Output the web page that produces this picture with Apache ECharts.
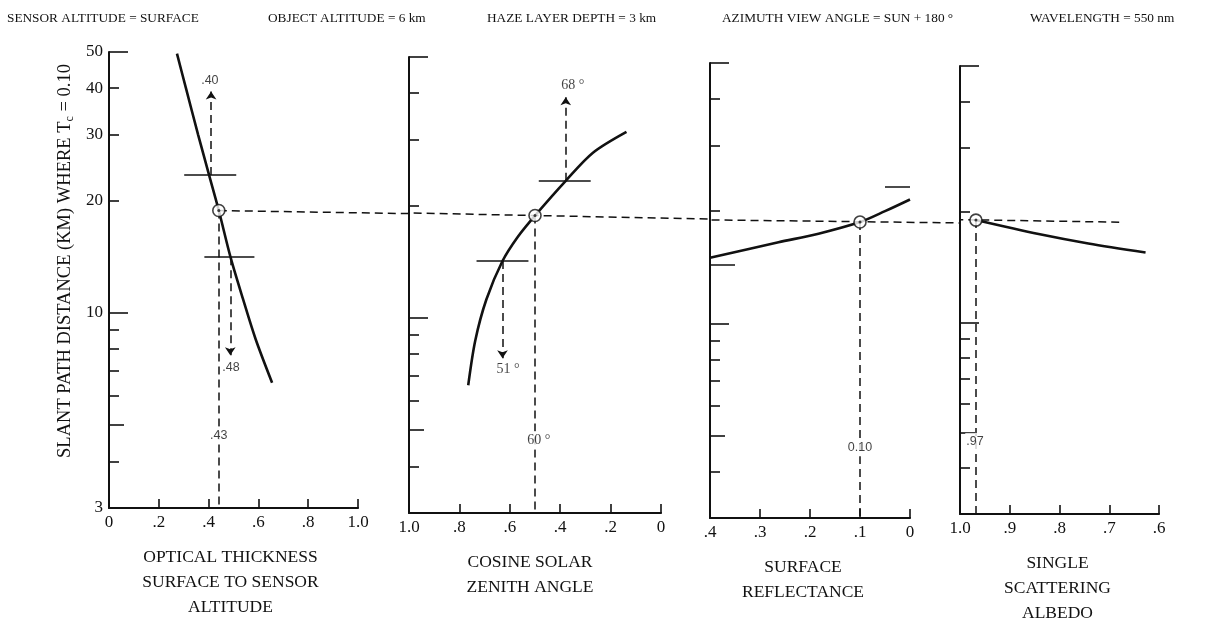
<!DOCTYPE html>
<html><head><meta charset="utf-8">
<script src="https://cdn.jsdelivr.net/npm/echarts@6/dist/echarts.min.js"></script>
<style>html,body{margin:0;padding:0;background:#fff}#c{width:1209px;height:631px}</style>
</head><body><div id="c"></div>
<script>
// ---------- data ----------
const headerTexts = ['SENSOR ALTITUDE = SURFACE', 'OBJECT ALTITUDE = 6 km', 'HAZE LAYER DEPTH = 3 km', 'AZIMUTH VIEW ANGLE = SUN + 180 °', 'WAVELENGTH = 550 nm'];
const yShortTicks = [40, 30, 20, 9, 8, 7, 6, 4];
const yLongTicks = [50, 10];
const yMidTicks = [5];
const yTickLabels = [50, 40, 30, 20, 10, 3];
const panelTitles = ['OPTICAL THICKNESS\nSURFACE TO SENSOR\nALTITUDE', 'COSINE SOLAR\nZENITH ANGLE', 'SURFACE\nREFLECTANCE', 'SINGLE\nSCATTERING\nALBEDO'];

// Panel 1: optical thickness
const opticalCurve = [[0.273, 49.5], [0.309, 40], [0.358, 30], [0.402, 23.4], [0.441, 18.8], [0.488, 14.1], [0.538, 10.9], [0.589, 8.5], [0.655, 6.5]];
const opticalPoint = [0.441, 18.8];
const opticalBars = [[[0.302, 23.4], [0.511, 23.4]], [[0.383, 14.1], [0.584, 14.1]]];
const opticalArrows = [[[0.41, 23.4], [0.41, 39.2]], [[0.487, 14.1], [0.487, 7.7]]];
const opticalDrops = [[[0.441, 18.8], [0.441, 3]]];
const opticalGuide = [[0.441, 18.8], [1.2, 18.45]];
const opticalLabels = [['.40', 0.405, 41.8], ['.48', 0.49, 7.15], ['.43', 0.441, 4.7]];

// Panel 2: cosine solar zenith angle
const cosineCurve = [[0.765, 6.6], [0.737, 8.7], [0.693, 11.2], [0.629, 14.2], [0.568, 16.5], [0.5, 18.8], [0.378, 23.3], [0.270, 27.7], [0.137, 31.5]];
const cosinePoint = [0.5, 18.8];
const cosineBars = [[[0.485, 23.3], [0.279, 23.3]], [[0.732, 14.2], [0.526, 14.2]]];
const cosineArrows = [[[0.378, 23.3], [0.378, 39]], [[0.629, 14.2], [0.629, 7.8]]];
const cosineDrops = [[[0.5, 18.8], [0.5, 3]]];
const cosineGuide = [[1.0, 19.1], [-0.195, 18.4]];
const cosineLabels = [['68 °', 0.35, 42], ['51 °', 0.607, 7.3], ['60 °', 0.485, 4.7]];

// Panel 3: surface reflectance
const reflectCurve = [[0.4, 15.0], [0.263, 16.5], [0.183, 17.4], [0.1, 18.7], [0.05, 20], [0, 21.5]];
const reflectPoint = [0.1, 18.7];
const reflectBars = [[[0.05, 23.3], [0, 23.3]], [[0.4, 14.4], [0.35, 14.4]]];
const reflectArrows = [];
const reflectDrops = [[[0.1, 18.7], [0.1, 3]]];
const reflectGuide = [[0.4, 18.95], [-0.1, 18.6]];
const reflectLabels = [['0.10', 0.1, 4.63]];

// Panel 4: single scattering albedo
const albedoCurve = [[0.968, 19.0], [0.842, 17.4], [0.742, 16.4], [0.627, 15.5]];
const albedoPoint = [0.968, 19.0];
const albedoBars = [[[0.645, 14.1], [0.595, 14.1]]];
const albedoArrows = [];
const albedoDrops = [[[0.968, 19.0], [0.968, 3]]];
const albedoGuide = [[1.0, 19.05], [0.68, 18.75]];
const albedoLabels = [['.97', 0.97, 4.73]];

// x axis ranges
const xMins = [0, 0, 0, 0.6];
const xMaxs = [1, 1, 0.4, 1];
const xIntervals = [0.2, 0.2, 0.1, 0.1];
const xInverse = [false, true, true, true];

// ---------- layout ----------
const grids = [
  {left: 109, top: 52, width: 249, height: 456},
  {left: 409, top: 57, width: 252, height: 456},
  {left: 710, top: 63, width: 200, height: 455},
  {left: 960, top: 66, width: 199, height: 456}
];
const headerX = [7, 268, 487, 722, 1030];
const titleShift = [[0, 6, 0, 0], [0, 10, 0, 0], [0, 14, 0, 0], [0, 4, 0, 0]];
const SERIF = '"Liberation Serif", "DejaVu Serif", serif';
const SANS = '"Liberation Sans", Arial, sans-serif';
const INK = '#111';

const panels = [
  {curve: opticalCurve, point: opticalPoint, bars: opticalBars, arrows: opticalArrows, drops: opticalDrops, guide: opticalGuide, labels: opticalLabels},
  {curve: cosineCurve, point: cosinePoint, bars: cosineBars, arrows: cosineArrows, drops: cosineDrops, guide: cosineGuide, labels: cosineLabels},
  {curve: reflectCurve, point: reflectPoint, bars: reflectBars, arrows: reflectArrows, drops: reflectDrops, guide: reflectGuide, labels: reflectLabels},
  {curve: albedoCurve, point: albedoPoint, bars: albedoBars, arrows: albedoArrows, drops: albedoDrops, guide: albedoGuide, labels: albedoLabels}
];

function fmtX(v) {
  const s = (Math.round(v * 10) / 10).toFixed(1);
  if (s === '0.0') return '0';
  if (s === '1.0') return '1.0';
  return s.replace(/^0\./, '.');
}

const xAxes = [], yAxes = [], series = [];
panels.forEach((p, i) => {
  xAxes.push({
    type: 'value', gridIndex: i, min: xMins[i], max: xMaxs[i], interval: xIntervals[i], inverse: xInverse[i],
    position: 'bottom',
    axisLine: {show: true, onZero: false, lineStyle: {color: INK, width: 2.2}},
    axisTick: {show: true, inside: true, length: 9, lineStyle: {color: INK, width: 1.6}},
    axisLabel: {formatter: fmtX, fontSize: 17, fontFamily: SERIF, color: INK, margin: 6, showMinLabel: true, showMaxLabel: true},
    splitLine: {show: false},
    name: panelTitles[i], nameLocation: 'middle', nameGap: 37,
    nameTextStyle: {fontSize: 17.5, lineHeight: 25, fontFamily: SERIF, color: INK, verticalAlign: 'top', padding: titleShift[i]}
  });
  const tickSets = [[yShortTicks, 10], [yLongTicks, 19], [yMidTicks, 15]];
  tickSets.forEach((ts, k) => {
    yAxes.push({
      type: 'log', logBase: 10, min: 3, max: 50, gridIndex: i, position: 'left',
      axisLine: {show: k === 0, onZero: false, lineStyle: {color: INK, width: 2}},
      axisTick: {show: true, inside: true, length: ts[1], customValues: ts[0], lineStyle: {color: INK, width: 1.6}},
      axisLabel: (i === 0 && k === 0)
        ? {show: true, customValues: yTickLabels, fontSize: 17, fontFamily: SERIF, color: INK, margin: 6}
        : {show: false},
      splitLine: {show: false}, minorTick: {show: false}
    });
  });
  const yi = i * 3;
  const solidSegs = p.bars.map(b => [{coord: b[0], symbol: 'none'}, {coord: b[1], symbol: 'none'}]);
  const dashSegs = p.arrows.map(a => [{coord: a[0], symbol: 'none'}, {coord: a[1], symbol: 'arrow', symbolSize: 8}])
    .concat(p.drops.map(d => [{coord: d[0], symbol: 'none'}, {coord: d[1], symbol: 'none'}]));
  series.push({
    type: 'line', xAxisIndex: i, yAxisIndex: yi, data: p.curve, smooth: 0.3, symbol: 'none', z: 3,
    lineStyle: {color: INK, width: 2.6}, silent: true,
    markLine: {silent: true, animation: false, symbol: ['none', 'none'], label: {show: false},
      lineStyle: {color: INK, width: 1.5, type: 'solid'}, emphasis: {disabled: true}, data: solidSegs}
  });
  series.push({
    type: 'line', xAxisIndex: i, yAxisIndex: yi, data: [], silent: true,
    markLine: {silent: true, animation: false, symbol: ['none', 'none'], label: {show: false},
      lineStyle: {color: INK, width: 1.5, type: [8, 5]}, emphasis: {disabled: true}, data: dashSegs}
  });
  series.push({
    type: 'scatter', xAxisIndex: i, yAxisIndex: yi, data: [p.point], symbolSize: 12, z: 5, silent: true,
    itemStyle: {color: '#fff', borderColor: INK, borderWidth: 1.6}
  });
  series.push({
    type: 'scatter', xAxisIndex: i, yAxisIndex: yi, data: [p.point], symbolSize: 3, z: 6, silent: true,
    itemStyle: {color: INK}
  });
  series.push({
    type: 'scatter', xAxisIndex: i, yAxisIndex: yi, z: 7, silent: true, symbolSize: 1,
    itemStyle: {color: 'rgba(0,0,0,0)'},
    data: p.labels.map(l => ({name: l[0], value: [l[1], l[2]]})),
    label: {show: true, position: 'inside', formatter: '{b}', color: INK,
      fontSize: (i === 1 ? 14 : 12.5), fontFamily: (i === 1 ? SERIF : SANS),
      backgroundColor: '#fff', padding: [2, 1]}
  });
});

const yNameText = {
  id: 'yname', type: 'text', x: 65, y: 261, rotation: Math.PI / 2, silent: true,
  style: {
    text: 'SLANT PATH DISTANCE (KM) WHERE T{s|c} = 0.10',
    fontSize: 18.5, fontFamily: SERIF, fill: INK,
    align: 'center', verticalAlign: 'middle', textAlign: 'center', textVerticalAlign: 'middle',
    rich: {s: {fontSize: 12, fontFamily: SERIF, fill: INK, padding: [10, 0, 0, 0]}}
  }
};

const chart = echarts.init(document.getElementById('c'), null, {renderer: 'canvas'});
chart.setOption({
  backgroundColor: '#fff',
  animation: false,
  title: headerTexts.map((t, k) => ({text: t, left: headerX[k], top: 12, padding: 0,
    textStyle: {fontSize: 13.3, fontWeight: 'normal', fontFamily: SERIF, color: INK}})),
  grid: grids,
  xAxis: xAxes,
  yAxis: yAxes,
  series: series,
  graphic: [yNameText]
});

// continuous dashed guide line across all panels, positioned through each panel's own scales
const guidePts = [];
panels.forEach((p, i) => {
  p.guide.forEach(pt => guidePts.push(chart.convertToPixel({xAxisIndex: i, yAxisIndex: 3 * i}, pt)));
});
chart.setOption({
  graphic: [yNameText, {
    id: 'guide', type: 'polyline', silent: true, z: 1,
    shape: {points: guidePts},
    style: {stroke: INK, lineWidth: 1.5, lineDash: [8, 5], fill: null}
  }]
});
</script></body></html>
